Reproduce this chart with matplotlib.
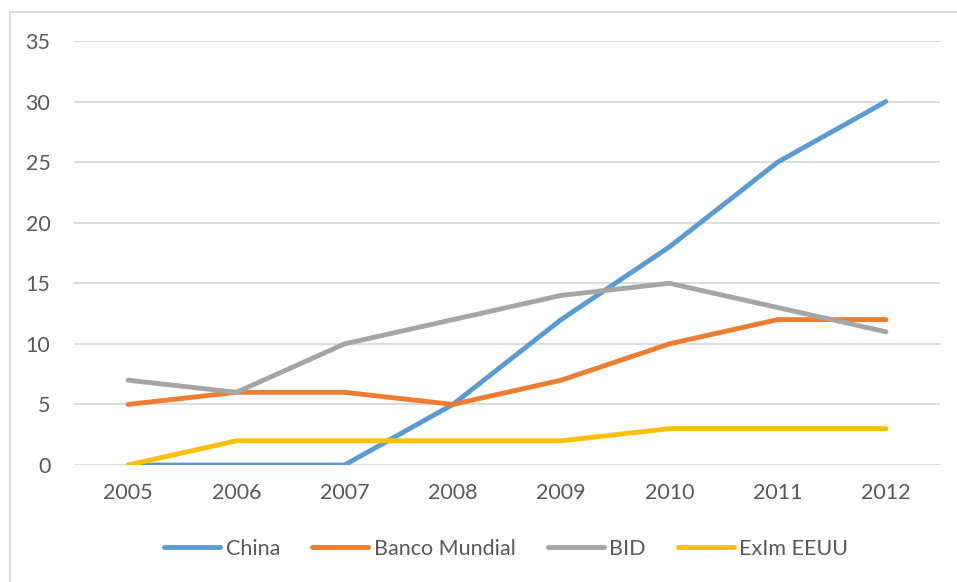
import matplotlib
matplotlib.use("Agg")
import matplotlib.pyplot as plt
from matplotlib.patches import Rectangle

years = ["2005", "2006", "2007", "2008", "2009", "2010", "2011", "2012"]
china = [0, 0, 0, 5, 12, 18, 25, 30]
banco_mundial = [5, 6, 6, 5, 7, 10, 12, 12]
bid = [7, 6, 10, 12, 14, 15, 13, 11]
exim_eeuu = [0, 2, 2, 2, 2, 3, 3, 3]

series_names = ["China", "Banco Mundial", "BID", "ExIm EEUU"]
series_colors = ["#5B9BD5", "#ED7D31", "#A5A5A5", "#FFC000"]
y_ticks = [0, 5, 10, 15, 20, 25, 30, 35]

plt.rcParams["font.family"] = ["Lato", "DejaVu Sans"]
text_color = "#595959"
fs = 15.5

W, H = 957, 582
fig = plt.figure(figsize=(W / 100, H / 100), dpi=100)

# chart area border (left and top edges visible)
fig.patches.append(Rectangle((10 / W, -0.1), 1.2, 1.1 - 12 / H,
                             transform=fig.transFigure, fill=False,
                             edgecolor="#D9D9D9", linewidth=1.3))

left, right = 74 / W, 940 / W
bottom, top = 1 - 465 / H, 1 - 41 / H
ax = fig.add_axes([left, bottom, right - left, top - bottom])

x = list(range(len(years)))
for vals, name, col in zip([china, banco_mundial, bid, exim_eeuu],
                           series_names, series_colors):
    ax.plot(x, vals, color=col, linewidth=3.5, label=name,
            solid_capstyle="round", solid_joinstyle="round", zorder=3)

ax.set_xlim(-0.5, len(years) - 0.5)
ax.set_ylim(0, 35)
ax.set_yticks(y_ticks)
ax.set_xticks(x)
ax.set_xticklabels(years)
ax.yaxis.grid(True, color="#D9D9D9", linewidth=1.3)
ax.set_axisbelow(True)
for s in ax.spines.values():
    s.set_visible(False)
ax.tick_params(axis="both", length=0, labelsize=fs, colors=text_color)
ax.tick_params(axis="y", pad=17)
ax.tick_params(axis="x", pad=13)

leg = fig.legend(loc="center", bbox_to_anchor=(0.529, 1 - 549 / H),
                 ncol=4, frameon=False, fontsize=fs, handlelength=2.6,
                 handletextpad=0.25, columnspacing=1.5)
for t in leg.get_texts():
    t.set_color(text_color)
for h in leg.get_lines():
    h.set_linewidth(3.5)
    h.set_solid_capstyle("round")

fig.savefig("out.png", dpi=100)
